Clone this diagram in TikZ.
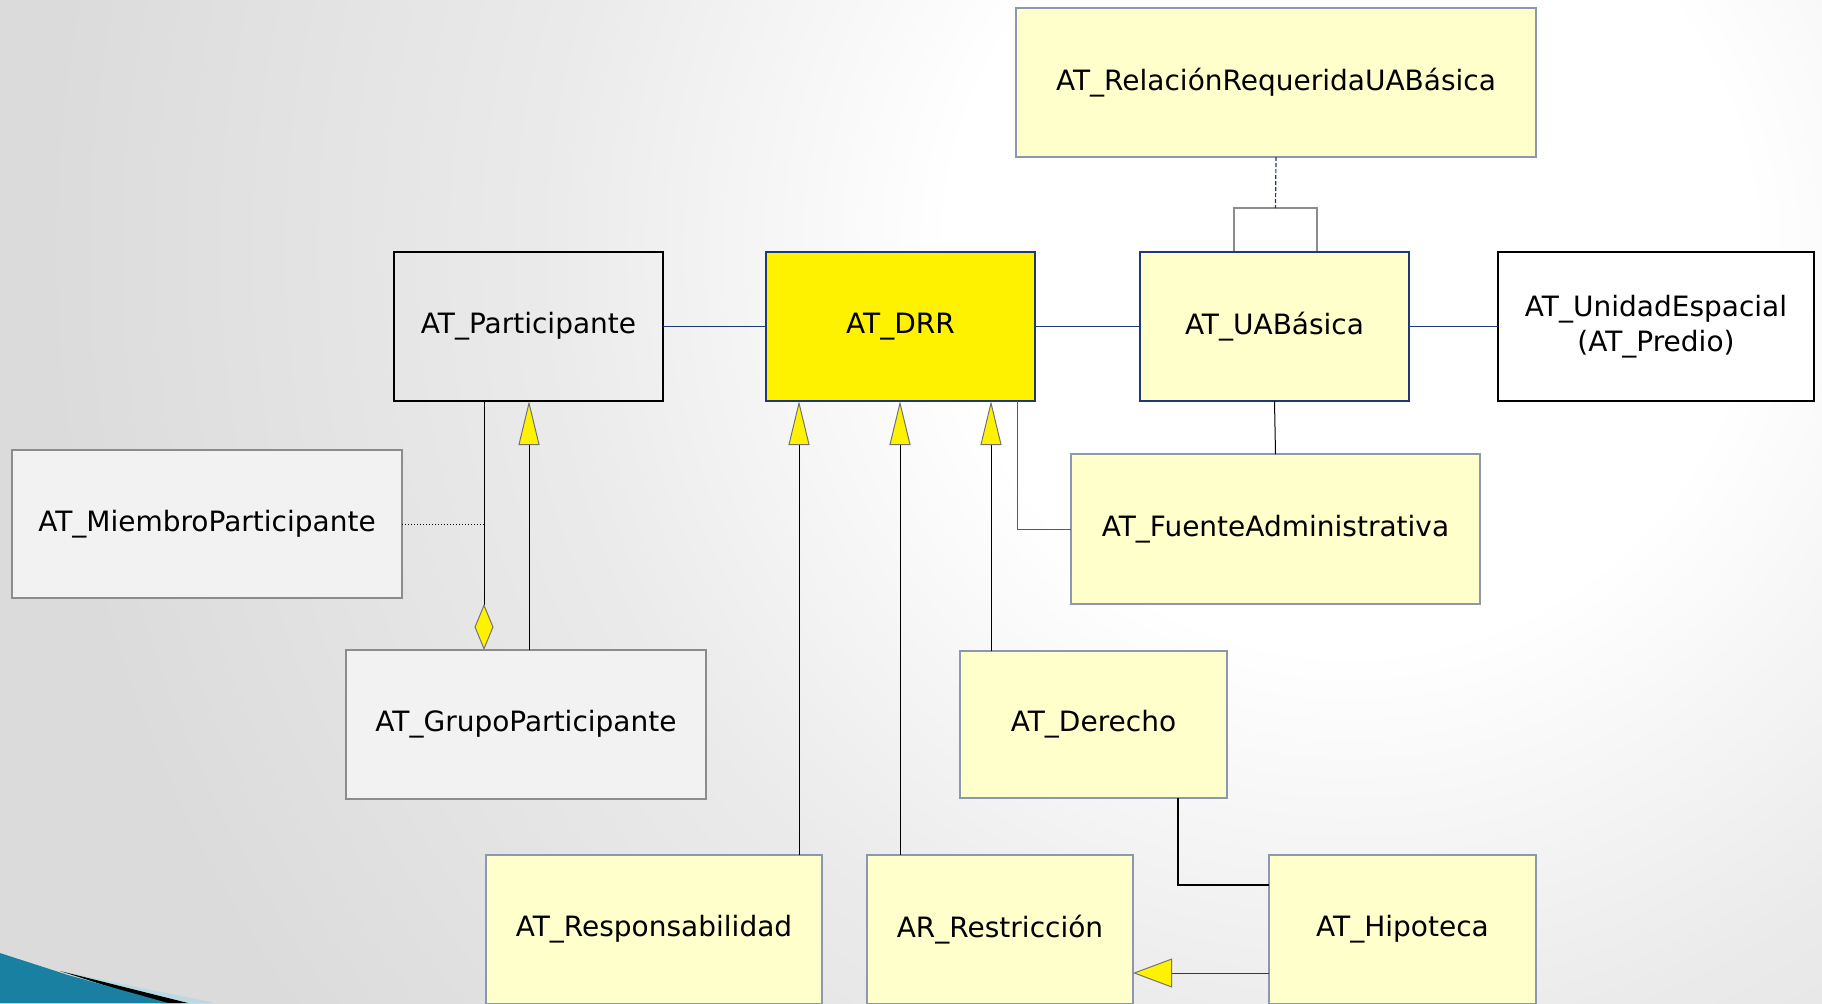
\documentclass[tikz,border=0pt]{standalone}
\usepackage{fontspec}
\setmainfont{DejaVu Sans}
\usepackage{tikz}
\usetikzlibrary{arrows.meta}

\definecolor{lightyel}{RGB}{255,255,204}
\definecolor{navyline}{RGB}{31,56,120}
\definecolor{boxedge}{RGB}{140,152,178}
\definecolor{swoosh}{RGB}{26,128,162}
\pgfdeclareradialshading{slidebg}{\pgfpoint{0bp}{0bp}}{color(0bp)=(white); color(3.85bp)=(white); color(7.7bp)=(black!8); color(12.5bp)=(black!14); color(50bp)=(black!14)}

\begin{document}
\begin{tikzpicture}[x=0.5pt, y=-0.5pt,
    every node/.style={rectangle, outer sep=0pt, minimum height=74.5pt, font=\fontsize{14}{17.4}\selectfont},
    light/.style={draw=boxedge, line width=0.6pt, fill=lightyel},
    greybox/.style={draw=black!45, line width=0.6pt, fill=black!5},
    assoc/.style={draw=navyline, line width=0.6pt},
    link/.style={draw=black, line width=0.5pt},
    gen/.style={link, -{Triangle[length=22pt, width=10.5pt, color=black!55, fill=yellow]}},
    agg/.style={link, -{Diamond[length=23pt, width=9.5pt, color=black!55, fill=yellow]}}]
    \useasboundingbox (0,0) rectangle (1822,1003);
    \begin{scope}
        \clip (0,0) rectangle (1822,1003);
        \shade[shading=slidebg] (1350,250) circle[radius=2600];
        % slide corner
        \fill[swoosh!30] (60,971) -- (215,1003) -- (150,1003) -- cycle;
        \fill[black] (60,971) -- (188,1003) -- (160,1003) -- cycle;
        \fill[swoosh] (0,953) -- (68,975) -- (168,1003) -- (0,1003) -- cycle;
    \end{scope}

    \node[light, minimum width=260pt] (rel) at (1276,82.5) {AT\_RelaciónRequeridaUABásica};
    \node[draw=black!45, fill=white, line width=0.6pt, minimum width=41.5pt, minimum height=22pt] (qual) at (1275.5,230) {};
    \node[draw=black, line width=1.1pt, minimum width=134.5pt] (part) at (528.5,326.5) {AT\_Participante};
    \node[draw=navyline, line width=1.1pt, fill=yellow, minimum width=134.5pt] (drr) at (900.5,326.5) {AT\_DRR};
    \node[draw=navyline, line width=1.1pt, fill=lightyel, minimum width=134.5pt] (uab) at (1274.5,326.5) {AT\_UABásica};
    \node[draw=black, line width=1.1pt, fill=white, minimum width=158pt, align=center] (unid) at (1656,326.5) {AT\_UnidadEspacial\\(AT\_Predio)};
    \node[greybox, minimum width=195pt, minimum height=74pt] (miem) at (207,524) {AT\_MiembroParticipante};
    \node[greybox, minimum width=180pt] (grupo) at (526,724.5) {AT\_GrupoParticipante};
    \node[light, minimum width=204.5pt, minimum height=75pt] (fuente) at (1275.5,529) {AT\_FuenteAdministrativa};
    \node[light, minimum width=133.5pt, minimum height=73.5pt] (der) at (1093.5,724.5) {AT\_Derecho};
    \node[light, minimum width=168pt] (resp) at (654,929.5) {AT\_Responsabilidad};
    \node[light, minimum width=133pt] (restr) at (1000,929.5) {AR\_Restricción};
    \node[light, minimum width=133.5pt] (hipo) at (1402.5,929.5) {AT\_Hipoteca};

    \draw[assoc] (part) -- (drr);
    \draw[assoc] (drr) -- (uab);
    \draw[assoc] (uab) -- (unid);
    \draw[assoc, dash pattern=on 2pt off 1pt] (rel.south) -- (qual.north);
    \draw[link] (uab.south) -- (fuente.north);
    \draw[link, black!65] (drr.south -| 1017,0) |- (fuente.west);
    \draw[link, line width=0.8pt] (der.south -| 1178,0) |- (hipo.west |- 0,885);

    \foreach \n/\x in {resp/799, restr/900, der/991}
        \draw[gen] (\n.north -| \x,0) -- (drr.south -| \x,0);
    \draw[gen] (grupo.north -| 529,0) -- (part.south -| 529,0);
    \draw[gen, draw=navyline, -{Triangle[length=19.5pt, width=14.5pt, color=black!55, fill=yellow]}] (hipo.west |- 0,973) -- (restr.east |- 0,973);
    \draw[agg] (part.south -| 484,0) -- (grupo.north -| 484,0);
    \coordinate (mj) at (484,524);
    \draw[link, densely dotted] (miem.east) -- (mj);
\end{tikzpicture}
\end{document}
